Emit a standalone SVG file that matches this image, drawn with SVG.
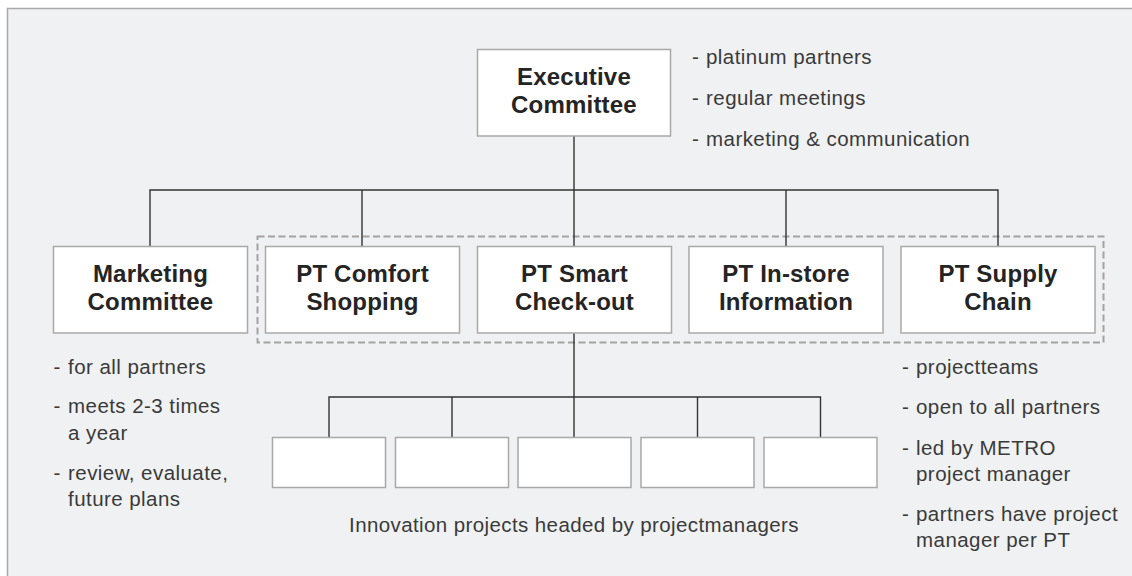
<svg xmlns="http://www.w3.org/2000/svg" width="1132" height="576" viewBox="0 0 1132 576">
  <style>
    .frame { fill: #f0f1f3; stroke: #a9a9a9; stroke-width: 1.5; }
    .box { fill: #ffffff; stroke: #a9a9a9; stroke-width: 1.5; }
    .group { fill: none; stroke: #a3a3a3; stroke-width: 2; stroke-dasharray: 7 3.5; }
    .conn { fill: none; stroke: #333333; stroke-width: 1.4; }
    .lbl { font-family: "Liberation Sans", Arial, sans-serif; font-weight: bold; font-size: 24px; fill: #242424; text-anchor: middle; letter-spacing: 0.2px; }
    .note { font-family: "Liberation Sans", Arial, sans-serif; font-size: 20.5px; fill: #3a3a3a; letter-spacing: 0.45px; }
    .cap { font-family: "Liberation Sans", Arial, sans-serif; font-size: 20.5px; fill: #3a3a3a; letter-spacing: 0.4px; text-anchor: middle; }
  </style>

  <rect class="frame" x="7.5" y="8.5" width="1140" height="580"/>

  <rect id="pt-group" class="group" x="257.5" y="236.5" width="846" height="106"/>

  <g id="connectors">
    <path class="conn" d="M574 136 V190 M150 246 V190 H998 V246 M362 190 V246 M574 190 V246 M786 190 V246"/>
    <path class="conn" d="M574 333 V437 M329 437 V397 H820.5 V437 M452 397 V437 M697.5 397 V437"/>
  </g>

  <g id="executive">
    <rect class="box" x="477.5" y="49.5" width="193" height="86.5"/>
    <text class="lbl" x="574" y="85">Executive</text>
    <text class="lbl" x="574" y="112.7">Committee</text>
  </g>

  <g id="marketing">
    <rect class="box" x="53.5" y="246.5" width="194" height="86.5"/>
    <text class="lbl" x="150.5" y="281.5">Marketing</text>
    <text class="lbl" x="150.5" y="309.5">Committee</text>
  </g>

  <g id="pt-comfort">
    <rect class="box" x="265.5" y="246.5" width="194" height="86.5"/>
    <text class="lbl" x="362.5" y="281.5">PT Comfort</text>
    <text class="lbl" x="362.5" y="309.5">Shopping</text>
  </g>

  <g id="pt-smart">
    <rect class="box" x="477.5" y="246.5" width="194" height="86.5"/>
    <text class="lbl" x="574.5" y="281.5">PT Smart</text>
    <text class="lbl" x="574.5" y="309.5">Check-out</text>
  </g>

  <g id="pt-instore">
    <rect class="box" x="689" y="246.5" width="194" height="86.5"/>
    <text class="lbl" x="786" y="281.5">PT In-store</text>
    <text class="lbl" x="786" y="309.5">Information</text>
  </g>

  <g id="pt-supply">
    <rect class="box" x="901" y="246.5" width="194" height="86.5"/>
    <text class="lbl" x="998" y="281.5">PT Supply</text>
    <text class="lbl" x="998" y="309.5">Chain</text>
  </g>

  <g id="projects">
    <rect class="box" x="272.5" y="437.5" width="113" height="50"/>
    <rect class="box" x="395.5" y="437.5" width="113" height="50"/>
    <rect class="box" x="518" y="437.5" width="113" height="50"/>
    <rect class="box" x="641" y="437.5" width="113" height="50"/>
    <rect class="box" x="764" y="437.5" width="113" height="50"/>
  </g>

  <g id="exec-notes">
    <text class="note" y="64"><tspan x="692">-</tspan><tspan x="706">platinum partners</tspan></text>
    <text class="note" y="105"><tspan x="692">-</tspan><tspan x="706">regular meetings</tspan></text>
    <text class="note" y="146"><tspan x="692">-</tspan><tspan x="706">marketing &amp; communication</tspan></text>
  </g>

  <g id="marketing-notes">
    <text class="note" y="374"><tspan x="53.5">-</tspan><tspan x="68">for all partners</tspan></text>
    <text class="note" y="413"><tspan x="53.5">-</tspan><tspan x="68">meets 2-3 times</tspan></text>
    <text class="note" x="68" y="440">a year</text>
    <text class="note" y="480"><tspan x="53.5">-</tspan><tspan x="68">review, evaluate,</tspan></text>
    <text class="note" x="68" y="506">future plans</text>
  </g>

  <g id="pt-notes">
    <text class="note" y="374"><tspan x="902">-</tspan><tspan x="916">projectteams</tspan></text>
    <text class="note" y="414"><tspan x="902">-</tspan><tspan x="916">open to all partners</tspan></text>
    <text class="note" y="455"><tspan x="902">-</tspan><tspan x="916">led by METRO</tspan></text>
    <text class="note" x="916" y="481">project manager</text>
    <text class="note" y="521"><tspan x="902">-</tspan><tspan x="916">partners have project</tspan></text>
    <text class="note" x="916" y="547">manager per PT</text>
  </g>

  <g id="caption">
    <text class="cap" x="574" y="532">Innovation projects headed by projectmanagers</text>
  </g>
</svg>
